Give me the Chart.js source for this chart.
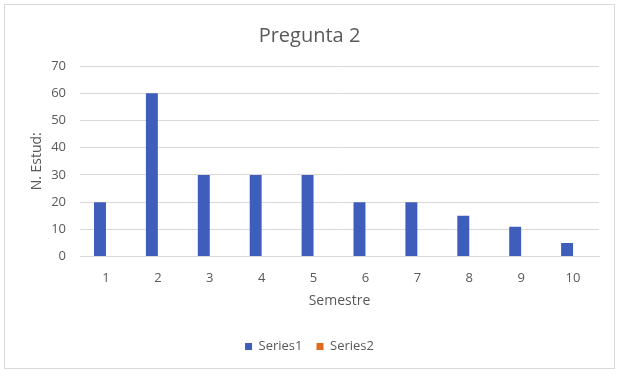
<!DOCTYPE html>
<html>
<head>
<meta charset="utf-8">
<script src="https://cdn.jsdelivr.net/npm/chart.js@4"></script>
<style>
  body { margin: 0; background: #fff; }
  .frame {
    position: absolute; left: 4px; top: 4px;
    width: 609px; height: 363px;
    border: 1px solid #d9d9d9; background: #fff;
  }
</style>
</head>
<body>
<div class="frame"><canvas id="chart" width="609" height="363"></canvas></div>
<script>
const semestres = ['1', '2', '3', '4', '5', '6', '7', '8', '9', '10'];
const series1 = [20, 60, 30, 30, 30, 20, 20, 15, 11, 5];
const series2 = [null, null, null, null, null, null, null, null, null, null];
const yTicks = [0, 10, 20, 30, 40, 50, 60, 70];

const fontFamily = "'Open Sans', 'Liberation Sans', sans-serif";
const textColor = '#595959';

new Chart(document.getElementById('chart'), {
    type: 'bar',
    data: {
        labels: semestres,
        datasets: [
            { label: 'Series1', data: series1, backgroundColor: '#3f5dba', categoryPercentage: 0.46, barPercentage: 1 },
            { label: 'Series2', data: series2, backgroundColor: '#e06b1f', categoryPercentage: 0.46, barPercentage: 1 }
        ]
    },
    options: {
        responsive: false,
        animation: false,
        layout: { padding: { left: 15, right: 15, top: 8, bottom: 5 } },
        plugins: {
            title: {
                display: true,
                text: 'Pregunta 2',
                color: textColor,
                font: { family: fontFamily, size: 20, weight: 'normal' },
                padding: { top: 11, bottom: 18 }
            },
            legend: {
                position: 'bottom',
                labels: {
                    color: textColor,
                    font: { family: fontFamily, size: 13 },
                    boxWidth: 7, boxHeight: 7,
                    padding: 14
                }
            },
            tooltip: { enabled: false }
        },
        scales: {
            x: {
                grid: { display: false },
                border: { display: true, color: '#d9d9d9' },
                ticks: { color: textColor, font: { family: fontFamily, size: 13 }, padding: 6 },
                title: {
                    display: true, text: 'Semestre', color: textColor,
                    font: { family: fontFamily, size: 14 }, padding: { top: 0, bottom: 17 }
                }
            },
            y: {
                min: 0, max: 70,
                afterBuildTicks: axis => { axis.ticks = yTicks.map(v => ({ value: v })); },
                afterFit: axis => { axis.width = 60; },
                grid: { color: '#d9d9d9', drawTicks: false },
                border: { display: false },
                ticks: { color: textColor, font: { family: fontFamily, size: 13 }, padding: 14 },
                title: {
                    display: true, text: 'N. Estud:', color: textColor,
                    font: { family: fontFamily, size: 14 }, padding: { top: 9, bottom: 0 }
                }
            }
        }
    }
});
</script>
</body>
</html>
